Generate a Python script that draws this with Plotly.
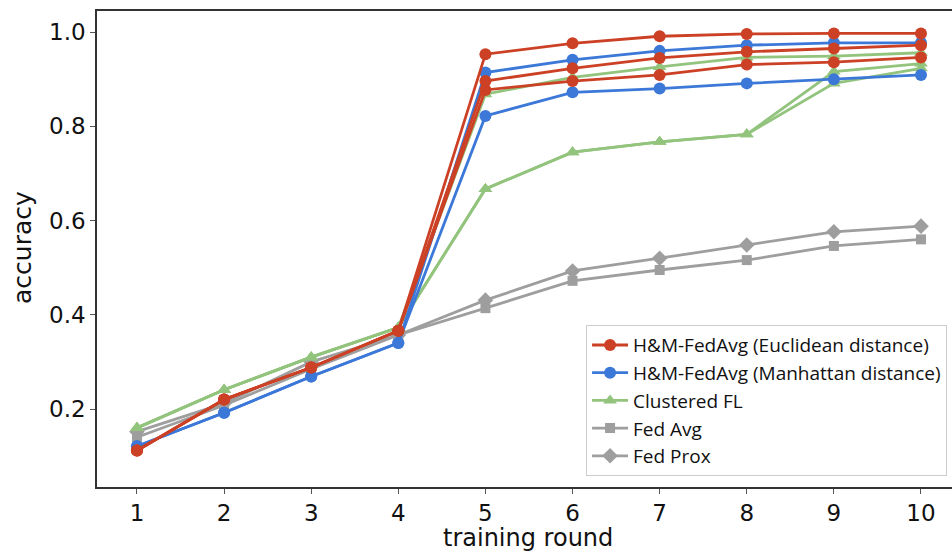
import plotly.graph_objects as go

rounds = [1, 2, 3, 4, 5, 6, 7, 8, 9, 10]

# H&M-FedAvg (Euclidean distance) - three runs
euclid_a = [0.112, 0.220, 0.288, 0.366, 0.953, 0.976, 0.991, 0.996, 0.997, 0.997]
euclid_b = [0.112, 0.220, 0.288, 0.366, 0.896, 0.923, 0.945, 0.958, 0.965, 0.972]
euclid_c = [0.112, 0.220, 0.288, 0.366, 0.877, 0.896, 0.909, 0.931, 0.936, 0.946]

# H&M-FedAvg (Manhattan distance) - two runs
manh_a = [0.121, 0.192, 0.269, 0.340, 0.914, 0.941, 0.960, 0.972, 0.977, 0.977]
manh_b = [0.121, 0.192, 0.269, 0.340, 0.822, 0.872, 0.880, 0.891, 0.900, 0.909]

# Clustered FL - three runs
clus_a = [0.160, 0.241, 0.310, 0.373, 0.868, 0.904, 0.926, 0.946, 0.949, 0.956]
clus_b = [0.160, 0.241, 0.310, 0.373, 0.667, 0.745, 0.767, 0.783, 0.916, 0.933]
clus_c = [0.160, 0.241, 0.310, 0.373, 0.667, 0.745, 0.767, 0.783, 0.891, 0.923]

fedavg = [0.140, 0.208, 0.285, 0.357, 0.414, 0.472, 0.495, 0.516, 0.546, 0.560]
fedprox = [0.152, 0.212, 0.300, 0.357, 0.431, 0.493, 0.520, 0.548, 0.576, 0.588]

x_title = "training round"
y_title = "accuracy"

RED = "#CC4125"
BLUE = "#3C78D8"
GREEN = "#93C47D"
GRAY = "#9E9E9E"

fig = go.Figure()

def add(y, name, color, symbol, show, rank, size=12):
    fig.add_trace(go.Scatter(
        x=rounds, y=y, name=name, mode="lines+markers",
        line=dict(color=color, width=2.8),
        marker=dict(color=color, symbol=symbol, size=size),
        showlegend=show, legendrank=rank, legendgroup=name,
    ))

add(fedprox, "Fed Prox", GRAY, "diamond", True, 5, 12)
add(fedavg, "Fed Avg", GRAY, "square", True, 4, 10)
add(clus_b, "Clustered FL", GREEN, "triangle-up", True, 3, 12)
add(clus_c, "Clustered FL", GREEN, "triangle-up", False, 3, 12)
add(clus_a, "Clustered FL", GREEN, "triangle-up", False, 3, 12)
add(manh_b, "H&M-FedAvg (Manhattan distance)", BLUE, "circle", True, 2)
add(manh_a, "H&M-FedAvg (Manhattan distance)", BLUE, "circle", False, 2)
add(euclid_c, "H&M-FedAvg (Euclidean distance)", RED, "circle", False, 1)
add(euclid_b, "H&M-FedAvg (Euclidean distance)", RED, "circle", False, 1)
add(euclid_a, "H&M-FedAvg (Euclidean distance)", RED, "circle", True, 1)

fig.update_layout(
    width=952, height=553,
    margin=dict(l=97, r=0, t=11, b=66, autoexpand=False),
    paper_bgcolor="white", plot_bgcolor="white",
    font=dict(family="DejaVu Sans", color="#111111"),
    xaxis=dict(
        range=[0.541, 10.356], tickvals=rounds, ticktext=[str(r) for r in rounds],
        showgrid=False, zeroline=False, automargin=False,
        showline=True, linecolor="#333333", linewidth=1.5, mirror=True,
        ticks="outside", ticklen=5, tickcolor="#555555",
        tickfont=dict(size=23, family="DejaVu Sans"),
    ),
    yaxis=dict(
        range=[0.0345, 1.0446], tickvals=[0.2, 0.4, 0.6, 0.8, 1.0],
        ticktext=["0.2", "0.4", "0.6", "0.8", "1.0"],
        showgrid=False, zeroline=False, automargin=False,
        showline=True, linecolor="#333333", linewidth=1.5,
        ticks="outside", ticklen=5, tickcolor="#555555",
        tickfont=dict(size=23, family="DejaVu Sans"),
    ),
    legend=dict(
        x=0.572, y=0.340, xanchor="left", yanchor="top",
        bgcolor="white", bordercolor="#CCCCCC", borderwidth=1,
        font=dict(family="Open Sans", size=19, color="#111111"),
        tracegroupgap=0, traceorder="normal", itemwidth=36,
    ),
    annotations=[
        dict(text=x_title, xref="paper", yref="paper", x=(528 - 97) / 855, y=-51 / 476,
             xanchor="center", yanchor="middle", showarrow=False,
             font=dict(size=24, family="DejaVu Sans", color="#111111")),
        dict(text=y_title, xref="paper", yref="paper", x=-75 / 855, y=(487 - 248) / 476,
             xanchor="center", yanchor="middle", showarrow=False, textangle=-90,
             font=dict(size=25, family="DejaVu Sans", color="#111111")),
    ],
)

fig.write_html(
    "out.html",
    config={"displayModeBar": False},
    post_script="document.body.style.margin='0';document.body.style.overflow='hidden';",
)
